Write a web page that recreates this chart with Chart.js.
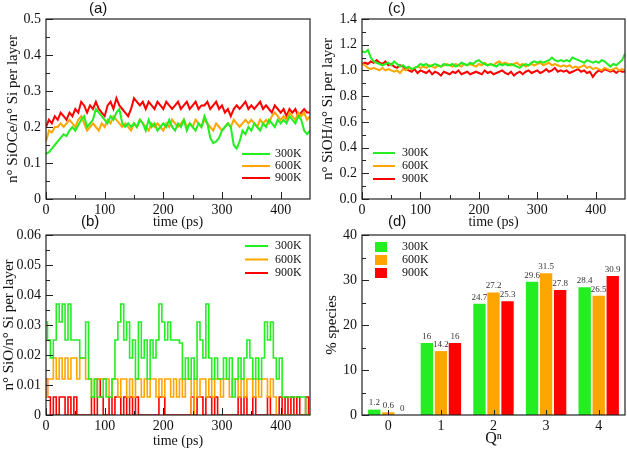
<!DOCTYPE html>
<html lang="en">
<head>
<meta charset="UTF-8">
<title>SiOCe / SiO / SiOH / Qn</title>
<script src="https://cdn.jsdelivr.net/npm/chart.js"></script>
<style>
    body { margin: 0; width: 627px; height: 450px; position: relative; background: #fff; overflow: hidden; }
    canvas { position: absolute; left: 0; top: 0; }
    .tag { position: absolute; font: 15px "Liberation Sans", sans-serif; color: #111; line-height: 16px; }
</style>
</head>
<body>
<canvas id="chartA" width="627" height="450"></canvas>
<canvas id="chartB" width="627" height="450"></canvas>
<canvas id="chartC" width="627" height="450"></canvas>
<canvas id="chartD" width="627" height="450"></canvas>
<div class="tag" style="left:89px;top:0px">(a)</div>
<div class="tag" style="left:81px;top:213px">(b)</div>
<div class="tag" style="left:388px;top:0px">(c)</div>
<div class="tag" style="left:388px;top:213px">(d)</div>

<script>
// sample times (ps), one every 5 ps
var timePs = [0,5,10,15,20,25,30,35,40,45,50,55,60,65,70,75,80,85,90,95,
    100,105,110,115,120,125,130,135,140,145,150,155,160,165,170,175,180,185,190,195,
    200,205,210,215,220,225,230,235,240,245,250,255,260,265,270,275,280,285,290,295,
    300,305,310,315,320,325,330,335,340,345,350,355,360,365,370,375,380,385,390,395,
    400,405,410,415,420,425,430,435,440,445,450];

var tempLabels = ['300K', '600K', '900K'];

// (a) n SiOCe / n Si per layer
var siocA300 = [0.125,0.13,0.14,0.15,0.16,0.17,0.18,0.175,0.19,0.2,
    0.19,0.205,0.22,0.23,0.2,0.21,0.22,0.25,0.24,0.23,
    0.22,0.21,0.23,0.22,0.24,0.25,0.21,0.2,0.21,0.2,
    0.21,0.2,0.22,0.21,0.19,0.22,0.2,0.21,0.19,0.2,
    0.21,0.2,0.22,0.2,0.19,0.21,0.2,0.22,0.19,0.21,
    0.2,0.19,0.21,0.2,0.23,0.21,0.17,0.155,0.16,0.17,
    0.19,0.2,0.21,0.2,0.15,0.14,0.16,0.19,0.18,0.2,
    0.19,0.21,0.2,0.19,0.21,0.2,0.22,0.21,0.2,0.22,
    0.21,0.22,0.21,0.23,0.22,0.21,0.23,0.22,0.19,0.18,
    0.19];
var siocA600 = [0.16,0.19,0.185,0.2,0.2,0.21,0.2,0.21,0.22,0.21,
    0.2,0.22,0.23,0.21,0.19,0.2,0.21,0.2,0.19,0.21,
    0.2,0.22,0.21,0.23,0.22,0.21,0.2,0.21,0.2,0.19,
    0.21,0.2,0.22,0.21,0.2,0.19,0.21,0.2,0.21,0.2,
    0.19,0.21,0.2,0.22,0.21,0.2,0.21,0.22,0.2,0.21,
    0.2,0.22,0.21,0.2,0.22,0.21,0.2,0.19,0.21,0.2,
    0.19,0.2,0.21,0.2,0.22,0.21,0.2,0.21,0.22,0.21,
    0.22,0.21,0.2,0.22,0.21,0.22,0.21,0.23,0.24,0.23,
    0.22,0.23,0.22,0.24,0.23,0.22,0.24,0.23,0.24,0.22,
    0.23];
var siocA900 = [0.2,0.22,0.21,0.23,0.22,0.24,0.23,0.22,0.24,0.23,
    0.25,0.24,0.27,0.26,0.24,0.26,0.25,0.27,0.25,0.24,
    0.23,0.26,0.27,0.25,0.28,0.26,0.25,0.24,0.23,0.25,
    0.28,0.27,0.26,0.27,0.25,0.27,0.26,0.25,0.27,0.26,
    0.25,0.27,0.26,0.25,0.26,0.27,0.25,0.26,0.27,0.25,
    0.26,0.27,0.25,0.26,0.26,0.27,0.25,0.26,0.27,0.25,
    0.26,0.24,0.25,0.23,0.25,0.26,0.25,0.26,0.27,0.25,
    0.26,0.25,0.26,0.27,0.25,0.26,0.25,0.24,0.26,0.25,
    0.24,0.25,0.23,0.25,0.24,0.25,0.23,0.24,0.25,0.24,
    0.24];

// (b) n SiO / n Si per layer
var sioB300 = [0.031,0.025,0.019,0.025,0.037,0.031,0.037,0.025,0.037,0.025,
    0.025,0.025,0.019,0.019,0.031,0.012,0.006,0.012,0.006,0.006,
    0.012,0.006,0.006,0.012,0.025,0.031,0.037,0.025,0.031,0.019,
    0.025,0.012,0.031,0.019,0.025,0.012,0.025,0.019,0.025,0.037,
    0.031,0.025,0.031,0.025,0.025,0.025,0.024,0.012,0.019,0.012,
    0.019,0.012,0.031,0.025,0.019,0.037,0.019,0.012,0.019,0.012,
    0.012,0.019,0.012,0.019,0.006,0.012,0.019,0.012,0.019,0.025,
    0.019,0.012,0.019,0.012,0.019,0.031,0.025,0.031,0.019,0.012,
    0.019,0.006,0.006,0.006,0.006,0.006,0.006,0.006,0.006,0,
    0];
var sioB600 = [0.006,0.012,0.012,0.019,0.012,0.019,0.012,0.019,0.012,0.019,
    0.019,0.012,0.019,0.019,0.012,0.012,0.006,0.012,0.012,0.012,
    0.012,0.012,0.006,0.012,0.012,0.006,0.012,0.012,0.006,0.012,
    0.006,0.012,0.012,0.006,0.012,0.006,0.012,0.012,0.006,0.012,
    0.006,0.012,0.012,0.006,0.012,0.006,0.012,0.006,0.012,0.012,
    0,0.012,0.006,0.012,0.012,0.006,0.012,0.006,0.012,0.012,
    0.006,0.012,0.012,0.006,0.012,0.012,0.006,0.012,0.006,0.012,
    0.012,0.006,0.012,0.006,0.012,0.012,0.006,0.012,0.006,0,
    0,0,0,0,0,0,0,0,0,0,
    0];
var sioB900 = [0.012,0.006,0,0.006,0,0.006,0.006,0,0.006,0,
    0.006,0,0,0,0,0,0.006,0,0.012,0.006,
    0,0,0.006,0,0.006,0.006,0,0.006,0,0.006,
    0,0.006,0,0,0,0,0,0,0,0.006,
    0.006,0,0,0,0,0,0,0,0,0,
    0.006,0,0.006,0.006,0,0.006,0.006,0,0.006,0,
    0,0,0,0,0,0,0.006,0,0.006,0,
    0,0.006,0,0,0,0,0.006,0,0,0,
    0.006,0,0.006,0,0.006,0,0.006,0,0,0.006,
    0];

// (c) n SiOH / n Si per layer
var siohC300 = [1.15,1.14,1.16,1.1,1.07,1.06,1.05,1.04,1.05,1.06,
    1.04,1.07,1.05,1.03,1.04,1.02,1.03,1.01,1.02,1.03,
    1.05,1.04,1.05,1.03,1.04,1.05,1.04,1.03,1.05,1.04,
    1.04,1.05,1.03,1.04,1.06,1.05,1.04,1.06,1.05,1.07,
    1.08,1.06,1.05,1.04,1.05,1.04,1.03,1.05,1.04,1.05,
    1.04,1.05,1.04,1.03,1.02,1.04,1.05,1.04,1.06,1.07,
    1.06,1.07,1.06,1.07,1.08,1.1,1.08,1.07,1.08,1.07,
    1.08,1.07,1.1,1.09,1.08,1.07,1.06,1.08,1.07,1.06,
    1.07,1.06,1.08,1.07,1.05,1.03,1.05,1.04,1.06,1.08,
    1.13];
var siohC600 = [1.05,1.04,1.02,1.01,1.02,1.01,1.0,1.02,1.0,1.01,
    1.0,0.99,1.0,0.98,1.01,1.0,1.02,1.01,1.02,1.03,
    1.02,1.03,1.02,1.04,1.03,1.02,1.04,1.03,1.04,1.05,
    1.04,1.03,1.05,1.04,1.03,1.05,1.04,1.05,1.04,1.03,
    1.05,1.04,1.06,1.04,1.05,1.04,1.06,1.07,1.05,1.06,
    1.05,1.04,1.05,1.06,1.04,1.05,1.03,1.04,1.05,1.04,
    1.05,1.06,1.04,1.05,1.06,1.04,1.05,1.04,1.03,1.04,
    1.03,1.04,1.02,1.03,1.02,1.03,1.04,1.02,1.03,1.01,
    1.02,1.01,1.0,1.02,1.01,1.0,1.01,1.02,1.0,1.01,
    1.0];
var siohC900 = [1.05,1.06,1.05,1.07,1.06,1.08,1.06,1.05,1.07,1.04,
    1.05,1.03,1.02,1.04,1.03,1.01,1.0,0.99,1.01,0.98,
    1.0,0.99,0.98,1.0,0.97,0.99,0.98,0.96,0.99,0.98,
    0.97,0.99,0.98,1.0,0.97,0.98,0.99,0.97,0.98,0.99,
    0.98,0.97,1.0,0.98,0.99,0.97,0.98,0.99,1.0,0.98,
    0.97,0.99,0.96,0.98,0.99,0.97,0.99,1.0,0.98,0.99,
    1.0,0.98,0.99,1.01,0.99,1.0,1.02,0.99,1.0,0.99,
    1.0,0.98,0.99,1.0,1.01,0.99,1.0,0.98,0.99,0.95,
    0.98,1.0,0.99,1.01,1.0,0.99,1.0,0.98,1.0,0.99,
    0.99];

// (d) % of Q^n species
var qnLabels = ['0', '1', '2', '3', '4'];
var qn300 = [1.2, 16, 24.7, 29.6, 28.4];
var qn600 = [0.6, 14.2, 27.2, 31.5, 26.5];
var qn900 = [0, 16, 25.3, 27.8, 30.9];

var colors = ['#22ee22', '#ffa500', '#ff0000'];
var serif = '"Liberation Serif", "Times New Roman", serif';

// inward ticks, frame, legend and bar value labels, grace style
var gracePlugin = {
    id: 'grace',
    afterDatasetsDraw: function (chart, args, opts) {
        var ctx = chart.ctx, a = chart.chartArea;
        var xs = chart.scales.x, ys = chart.scales.y;
        ctx.save();
        ctx.strokeStyle = '#222';
        ctx.lineWidth = 1;

        // y ticks on the left edge
        var yv = ys.ticks.map(function (t) { return t.value; });
        yv.forEach(function (v, i) {
            var py = Math.round(ys.getPixelForValue(v)) + 0.5;
            ctx.beginPath(); ctx.moveTo(a.left, py); ctx.lineTo(a.left + 7, py); ctx.stroke();
            if (i < yv.length - 1) {
                var pm = Math.round(ys.getPixelForValue((v + yv[i + 1]) / 2)) + 0.5;
                ctx.beginPath(); ctx.moveTo(a.left, pm); ctx.lineTo(a.left + 4, pm); ctx.stroke();
            }
        });
        // x ticks on the bottom edge
        if (xs.type === 'category') {
            chart.data.labels.forEach(function (l, i) {
                var px = Math.round(xs.getPixelForValue(i)) + 0.5;
                ctx.beginPath(); ctx.moveTo(px, a.bottom); ctx.lineTo(px, a.bottom - 5); ctx.stroke();
            });
        } else {
            var xv = xs.ticks.map(function (t) { return t.value; });
            xv.forEach(function (v, i) {
                var px = Math.round(xs.getPixelForValue(v)) + 0.5;
                ctx.beginPath(); ctx.moveTo(px, a.bottom); ctx.lineTo(px, a.bottom - 7); ctx.stroke();
                var step = xv[1] - xv[0];
                var m = v + step / 2;
                if (m < xs.max) {
                    var pm = Math.round(xs.getPixelForValue(m)) + 0.5;
                    ctx.beginPath(); ctx.moveTo(pm, a.bottom); ctx.lineTo(pm, a.bottom - 4); ctx.stroke();
                }
            });
        }
        // frame
        ctx.lineWidth = 1.2;
        ctx.strokeRect(a.left, a.top, a.right - a.left, a.bottom - a.top);

        // legend
        var lg = opts.legend;
        ctx.font = '12px ' + serif;
        ctx.textBaseline = 'middle';
        ctx.fillStyle = '#111';
        chart.data.datasets.forEach(function (ds, i) {
            var y = lg.y + i * lg.dy;
            if (lg.box) {
                ctx.fillStyle = ds.backgroundColor;
                ctx.fillRect(lg.x, y - 5, 12, 10);
            } else {
                ctx.strokeStyle = ds.borderColor;
                ctx.lineWidth = 2;
                ctx.beginPath(); ctx.moveTo(lg.x, y); ctx.lineTo(lg.x + lg.len, y); ctx.stroke();
            }
            ctx.fillStyle = '#111';
            ctx.fillText(ds.label, lg.tx, y);
        });

        // value labels above bars
        if (opts.values) {
            ctx.font = '9px ' + serif;
            ctx.fillStyle = '#333';
            ctx.textAlign = 'center';
            ctx.textBaseline = 'bottom';
            chart.data.datasets.forEach(function (ds, i) {
                chart.getDatasetMeta(i).data.forEach(function (bar, j) {
                    ctx.fillText(String(ds.data[j]), bar.x, bar.y - 2);
                });
            });
        }
        ctx.restore();
    }
};

function lineSet(label, values, color, width) {
    return {
        label: label,
        data: values.map(function (v, i) { return { x: timePs[i], y: v }; }),
        borderColor: color,
        backgroundColor: color,
        borderWidth: width || 2,
        pointRadius: 0,
        tension: 0
    };
}

function timeChart(id, sets, opt) {
    var tickFont = { family: serif, size: 14 };
    return new Chart(document.getElementById(id), {
        type: 'line',
        data: { datasets: sets },
        options: {
            responsive: false,
            animation: false,
            events: [],
            layout: { padding: opt.padding },
            plugins: {
                legend: { display: false },
                tooltip: { enabled: false },
                grace: { legend: opt.legend }
            },
            scales: {
                x: {
                    type: 'linear',
                    min: 0, max: 450,
                    afterFit: function (s) { s.height = opt.xh; },
                    grid: { display: false, drawTicks: false },
                    border: { display: false },
                    ticks: { stepSize: 100, includeBounds: false, padding: 3, color: '#111', font: tickFont, maxRotation: 0 },
                    title: { display: true, text: 'time (ps)', color: '#111', font: { family: serif, size: 14 }, padding: 0 }
                },
                y: {
                    min: opt.ymin, max: opt.ymax,
                    afterFit: function (s) { s.width = opt.yw; },
                    grid: { display: false, drawTicks: false },
                    border: { display: false },
                    ticks: { stepSize: opt.ystep, padding: 5, color: '#111', font: tickFont, callback: opt.yfmt },
                    title: { display: true, text: opt.ytitle, color: '#111', font: { family: serif, size: 15 }, padding: { top: opt.ytpad, bottom: 0 } }
                }
            }
        },
        plugins: [gracePlugin]
    });
}

timeChart('chartA', [
    lineSet(tempLabels[0], siocA300, colors[0]),
    lineSet(tempLabels[1], siocA600, colors[1]),
    lineSet(tempLabels[2], siocA900, colors[2])
], {
    padding: { left: 0, top: 19, right: 317, bottom: 219 },
    xh: 32, yw: 46, ytpad: 4,
    ymin: 0, ymax: 0.5, ystep: 0.1,
    yfmt: function (v) { return v === 0 ? '0' : (Math.round(v * 10) / 10).toFixed(1); },
    ytitle: 'n° SiOCe/n° Si per layer',
    legend: { x: 242, len: 28, tx: 275, y: 154, dy: 12 }
});

timeChart('chartB', [
    Object.assign(lineSet(tempLabels[0], sioB300, colors[0], 1.6), { stepped: 'middle' }),
    Object.assign(lineSet(tempLabels[1], sioB600, colors[1], 1.6), { stepped: 'middle' }),
    Object.assign(lineSet(tempLabels[2], sioB900, colors[2], 1.6), { stepped: 'middle' })
], {
    padding: { left: 0, top: 235, right: 317, bottom: 0 },
    xh: 35, yw: 46, ytpad: 0,
    ymin: 0, ymax: 0.06, ystep: 0.01,
    yfmt: function (v) { return v === 0 ? '0' : (Math.round(v * 100) / 100).toFixed(2); },
    ytitle: 'n° SiO/n° Si per layer',
    legend: { x: 245, len: 23, tx: 275, y: 246, dy: 13.5 }
});

timeChart('chartC', [
    lineSet(tempLabels[0], siohC300, colors[0]),
    lineSet(tempLabels[1], siohC600, colors[1]),
    lineSet(tempLabels[2], siohC900, colors[2])
], {
    padding: { left: 319, top: 19, right: 2, bottom: 219 },
    xh: 32, yw: 43, ytpad: 0,
    ymin: 0, ymax: 1.4, ystep: 0.2,
    yfmt: function (v) { return (Math.round(v * 10) / 10).toFixed(1); },
    ytitle: 'n° SiOH/n° Si per layer',
    legend: { x: 373, len: 22, tx: 402, y: 153, dy: 13 }
});

new Chart(document.getElementById('chartD'), {
    type: 'bar',
    data: {
        labels: qnLabels,
        datasets: [
            { label: tempLabels[0], data: qn300, backgroundColor: colors[0] },
            { label: tempLabels[1], data: qn600, backgroundColor: colors[1] },
            { label: tempLabels[2], data: qn900, backgroundColor: colors[2] }
        ]
    },
    options: {
        responsive: false,
        animation: false,
        events: [],
        layout: { padding: { left: 320, top: 235, right: 2, bottom: 0 } },
        datasets: { bar: { categoryPercentage: 0.8, barPercentage: 0.88 } },
        plugins: {
            legend: { display: false },
            tooltip: { enabled: false },
            grace: { legend: { box: true, x: 375, tx: 402, y: 247, dy: 13 }, values: true }
        },
        scales: {
            x: {
                afterFit: function (s) { s.height = 35; },
                grid: { display: false, drawTicks: false },
                border: { display: false },
                ticks: { padding: 3, color: '#111', font: { family: serif, size: 14 } },
                title: { display: true, text: 'Qⁿ', color: '#111', font: { family: serif, size: 16 }, padding: { top: 0, bottom: 2 } }
            },
            y: {
                min: 0, max: 40,
                afterFit: function (s) { s.width = 42; },
                grid: { display: false, drawTicks: false },
                border: { display: false },
                ticks: { stepSize: 10, padding: 5, color: '#111', font: { family: serif, size: 14 } },
                title: { display: true, text: '% species', color: '#111', font: { family: serif, size: 15 }, padding: { top: 3, bottom: 0 } }
            }
        }
    },
    plugins: [gracePlugin]
});
</script>
</body>
</html>
